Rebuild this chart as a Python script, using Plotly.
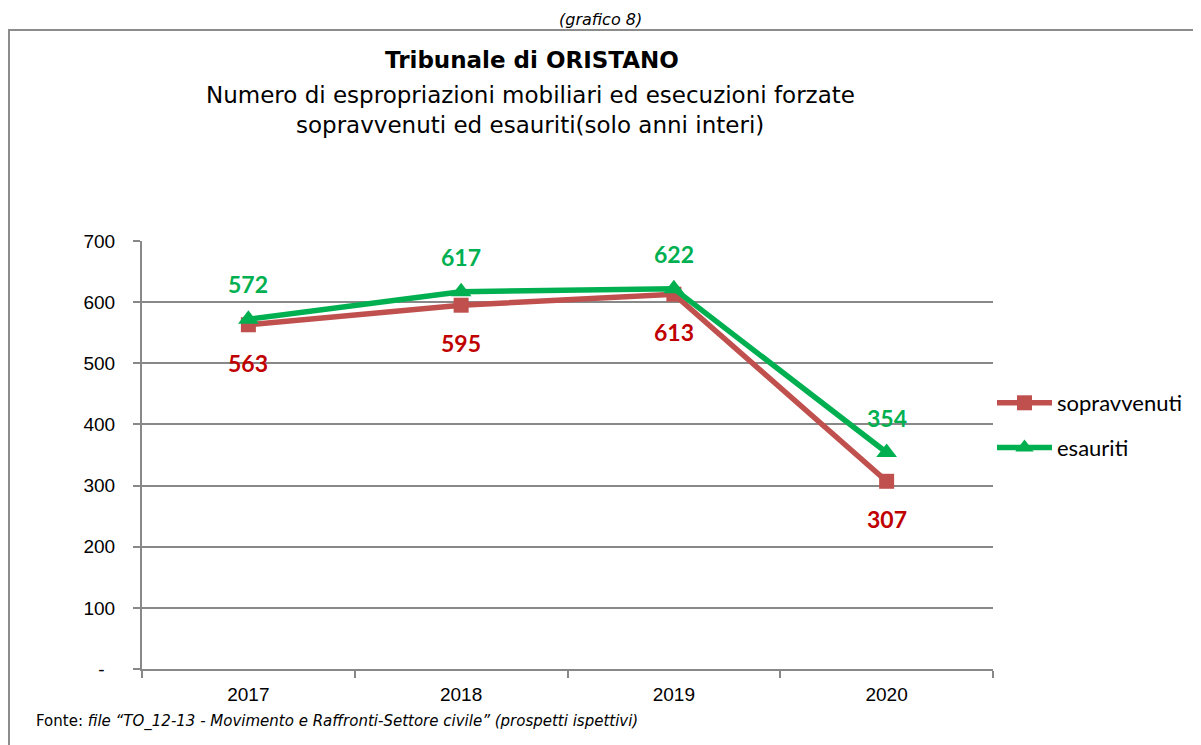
import plotly.graph_objects as go

years = ["2017", "2018", "2019", "2020"]
sopravvenuti = [563, 595, 613, 307]
esauriti = [572, 617, 622, 354]
y_ticks = [0, 100, 200, 300, 400, 500, 600, 700]
y_tick_labels = ["-\u00a0\u00a0", "100", "200", "300", "400", "500", "600", "700"]

RED_LINE = "#C0504D"
RED_TEXT = "#C00000"
GREEN = "#00B050"
GRID = "#888888"

# page has an 8px body margin; the figure is sized to fit the window
OFF = 8
W, H = 1201 - OFF, 745 - OFF
PX0, PX1, PY0, PY1 = 142, 993, 241, 669   # plot area in page pixels
L, T = PX0 - OFF, PY0 - OFF
PW, PH = PX1 - PX0, PY1 - PY0
R, B = W - L - PW, H - T - PH

def px_x(p):
    return (p - PX0) / PW

def px_y(p):
    return (PY1 - p) / PH

fig = go.Figure()
fig.add_trace(go.Scatter(
    x=years, y=sopravvenuti, name="sopravvenuti", mode="lines+markers",
    line=dict(color=RED_LINE, width=5.5),
    marker=dict(symbol="square", size=15, color=RED_LINE),
    legendgroup="a",
))
fig.add_trace(go.Scatter(
    x=years, y=esauriti, name="esauriti", mode="lines+markers",
    line=dict(color=GREEN, width=5.5),
    marker=dict(symbol="triangle-up", size=18, color=GREEN),
    legendgroup="b",
))

annotations = []
for i, v in enumerate(esauriti):
    annotations.append(dict(x=i, y=v, xref="x", yref="y", text=f"<b>{v}</b>",
                            showarrow=False, yshift=35,
                            font=dict(family="Lato", size=23, color=GREEN)))
for i, v in enumerate(sopravvenuti):
    annotations.append(dict(x=i, y=v, xref="x", yref="y", text=f"<b>{v}</b>",
                            showarrow=False, yshift=-38,
                            font=dict(family="Lato", size=23, color=RED_TEXT)))

def paper_text(x, y, text, size, anchor="center"):
    return dict(x=px_x(x), y=px_y(y), xref="paper", yref="paper", showarrow=False,
                xanchor=anchor, yanchor="middle", text=text,
                font=dict(family="DejaVu Sans", size=size, color="#000000"))

annotations += [
    paper_text(532, 60, "<b>Tribunale di ORISTANO</b>", 23),
    paper_text(530, 95, "Numero di espropriazioni mobiliari ed esecuzioni forzate", 23),
    paper_text(530, 125, "sopravvenuti ed esauriti(solo anni interi)", 23),
    paper_text(600, 19, "<i>(grafico 8)</i>", 16),
    paper_text(34, 721,
               "Fonte: <i>file \u201cTO_12-13 - Movimento e Raffronti-Settore civile\u201d (prospetti ispettivi)</i>",
               15, anchor="left"),
]

shapes = [
    dict(type="rect", xref="paper", yref="paper",
         x0=px_x(9), x1=px_x(1215), y0=px_y(760), y1=px_y(30),
         line=dict(color="#8C8C8C", width=2), fillcolor="rgba(0,0,0,0)", layer="below"),
]

fig.update_layout(
    width=W, height=H,
    margin=dict(l=L, r=R, t=T, b=B),
    paper_bgcolor="white", plot_bgcolor="white",
    showlegend=True,
    legend=dict(x=px_x(992), y=px_y(382), xanchor="left", yanchor="top",
                font=dict(family="Lato", size=22, color="#000000"),
                traceorder="grouped", tracegroupgap=13, itemwidth=55,
                bgcolor="rgba(0,0,0,0)"),
    annotations=annotations,
    shapes=shapes,
    xaxis=dict(type="category", range=[-0.5, 3.5], showgrid=False,
               showline=True, linecolor=GRID, linewidth=2,
               ticks="outside", tickson="boundaries", ticklen=7, tickcolor=GRID, tickwidth=2,
               ticklabelstandoff=7,
               tickfont=dict(family="Liberation Sans", size=19, color="#000000"),
               zeroline=False),
    yaxis=dict(range=[0, 700], tickvals=y_ticks, ticktext=y_tick_labels,
               showgrid=True, gridcolor=GRID, gridwidth=2,
               showline=True, linecolor=GRID, linewidth=2,
               ticks="outside", ticklen=7, tickcolor=GRID, tickwidth=2,
               ticklabelstandoff=14,
               tickfont=dict(family="Liberation Sans", size=19, color="#000000"),
               zeroline=False),
)

fig.write_html("out.html")
